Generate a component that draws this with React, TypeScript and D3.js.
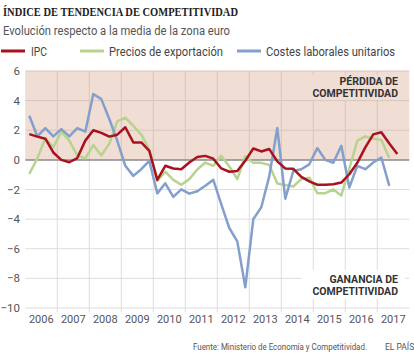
import React from "react";
import * as d3 from "d3";

const startYear = 2006;
const years = [2006, 2007, 2008, 2009, 2010, 2011, 2012, 2013, 2014, 2015, 2016, 2017];
const yTicks = [6, 4, 2, 0, -2, -4, -6, -8, -10];

// Quarterly values starting 2006 Q1
const ipc = [1.74, 1.57, 1.43, 0.5, 0.0, -0.16, 0.12, 1.3, 2.0, 1.82, 1.57, 1.7, 2.2, 1.18, 1.18, 0.61,
  -1.35, -0.4, -0.58, -0.63, -0.18, 0.2, 0.27, 0.08, -0.58, -0.8, -0.75, -0.05, 0.77, 0.57, 0.73, -0.1,
  -0.58, -0.6, -1.15, -1.45, -1.68, -1.68, -1.65, -1.53, -0.97, -0.2, 0.84, 1.72, 1.86, 1.1, 0.4];
const preciosExportacion = [-0.95, 0.1, 1.45, 0.85, 1.9, 1.3, 0.3, 0.1, 1.0, 0.3, 1.1, 2.6, 2.85, 2.3, 1.7, 0.7,
  -1.4, -0.8, -1.35, -1.68, -1.3, -0.65, -0.18, -0.4, 0.27, -0.45, -1.3, 0.25, -0.2, -0.2, -0.35, -1.6,
  -1.7, -1.8, -1.3, -1.2, -2.25, -2.25, -2.0, -2.4, -0.6, 1.3, 1.58, 1.42, 1.35, 0.13];
const costesLaborales = [2.98, 1.59, 2.15, 1.59, 2.08, 1.59, 2.15, 1.9, 4.45, 4.1, 2.76, 1.29, -0.4, -1.08, -0.63, -0.07,
  -2.26, -1.58, -2.5, -1.99, -2.28, -2.12, -1.75, -1.35, -3.0, -4.6, -5.5, -8.6, -4.0, -3.2, -1.1, 2.15,
  -2.62, -0.75, -0.63, -0.3, 0.8, 0.0, -0.2, 0.95, -1.87, -0.4, -0.63, -0.18, 0.16, -1.76];

const seriesNames = ["IPC", "Precios de exportación", "Costes laborales unitarios"];
const colors = { ipc: "#a8121f", exp: "#b8d38e", lab: "#839fcc" };

const W = 414, H = 363;
const x = d3.scaleLinear().domain([2006, 2018]).range([25.3, 409.3]);
const y = d3.scaleLinear().domain([-10, 6]).range([308, 71]);

const toPts = (arr: number[]) => arr.map((v, i) => [startYear + (i + 0.5) / 4, v] as [number, number]);
const line = d3.line<[number, number]>().x(d => x(d[0])).y(d => y(d[1]));

const SANS = "Roboto, 'Noto Sans', sans-serif";

export default function App() {
  const x0 = x(2006), x1 = x(2018);
  return (
    <svg width={W} height={H} style={{ position: "absolute", left: 0, top: 0, background: "#fff" }}
      fontFamily={SANS}>
      {/* Title */}
      <text x={3} y={16} fontFamily="'Liberation Serif', 'DejaVu Serif', serif" fontWeight="bold"
        fontSize={12.5} fill="#222" textLength={235} lengthAdjust="spacingAndGlyphs">
        ÍNDICE DE TENDENCIA DE COMPETITIVIDAD
      </text>
      <text x={3} y={35} fontSize={12} fill="#555" textLength={227} lengthAdjust="spacingAndGlyphs">
        Evolución respecto a la media de la zona euro
      </text>
      {/* Legend */}
      {[
        { c: colors.ipc, lx: 1, tx: 31, t: seriesNames[0], tl: 16 },
        { c: colors.exp, lx: 80, tx: 109, t: seriesNames[1], tl: 114 },
        { c: colors.lab, lx: 237, tx: 266, t: seriesNames[2], tl: 129 },
      ].map((l, i) => (
        <g key={i}>
          <line x1={l.lx} x2={l.lx + 24} y1={51} y2={51} stroke={l.c} strokeWidth={3} />
          <text x={l.tx} y={55.5} fontSize={12} fill="#444" textLength={l.tl} lengthAdjust="spacingAndGlyphs">{l.t}</text>
        </g>
      ))}

      {/* Shaded loss area */}
      <rect x={x0} y={y(6)} width={x1 - x0} height={y(0) - y(6)} fill="#f0ddd3" />

      {/* Horizontal grid */}
      {yTicks.filter(t => t !== 0).map(t => (
        <line key={t} x1={x0} x2={x1} y1={y(t)} y2={y(t)} stroke={t > 0 ? "#d9c6bd" : "#dddddd"} strokeWidth={1} />
      ))}
      {/* Vertical grid */}
      {years.slice(1).map(yr => (
        <g key={yr}>
          <line x1={x(yr)} x2={x(yr)} y1={y(6)} y2={y(0)} stroke="#d9c6bd" strokeWidth={1} />
          <line x1={x(yr)} x2={x(yr)} y1={y(0)} y2={y(-10) + 4} stroke="#dddddd" strokeWidth={1} />
        </g>
      ))}

      {/* Annotation backgrounds */}
      <rect x={305} y={75} width={98} height={25} fill="#f0ddd3" />
      <rect x={302} y={270} width={103} height={29} fill="#fff" />

      {/* Zero line */}
      <line x1={x0} x2={x1} y1={y(0)} y2={y(0)} stroke="#8a8a8a" strokeWidth={1.5} />

      {/* Y axis labels */}
      {yTicks.map(t => (
        <text key={t} x={20} y={y(t) + 4} textAnchor="end" fontSize={11.5} fill="#555">
          {t < 0 ? "\u2212" + Math.abs(t) : String(t)}
        </text>
      ))}
      {/* X axis labels */}
      {years.map(yr => (
        <text key={yr} x={x(yr + 0.5)} y={323} textAnchor="middle" fontSize={11} fill="#555">{yr}</text>
      ))}

      {/* Series */}
      <path d={line(toPts(preciosExportacion)) || ""} fill="none" stroke={colors.exp} strokeWidth={2.5} strokeLinejoin="round" />
      <path d={line(toPts(costesLaborales)) || ""} fill="none" stroke={colors.lab} strokeWidth={2.5} strokeLinejoin="round" />
      <path d={line(toPts(ipc)) || ""} fill="none" stroke={colors.ipc} strokeWidth={2.5} strokeLinejoin="round" />

      {/* Annotations */}
      <g fontWeight="bold" fontSize={10.5} fill="#333" textAnchor="end">
        <text x={398} y={85}>PÉRDIDA DE</text>
        <text x={398} y={97}>COMPETITIVIDAD</text>
        <text x={398} y={283}>GANANCIA DE</text>
        <text x={398} y={295}>COMPETITIVIDAD</text>
      </g>

      {/* Footer */}
      <text x={193} y={350} fontSize={8.5} fill="#555" textLength={174} lengthAdjust="spacingAndGlyphs">
        Fuente: Ministerio de Economía y Competitividad.
      </text>
      <text x={385} y={350} fontSize={8.5} fill="#555">EL PAÍS</text>
    </svg>
  );
}
